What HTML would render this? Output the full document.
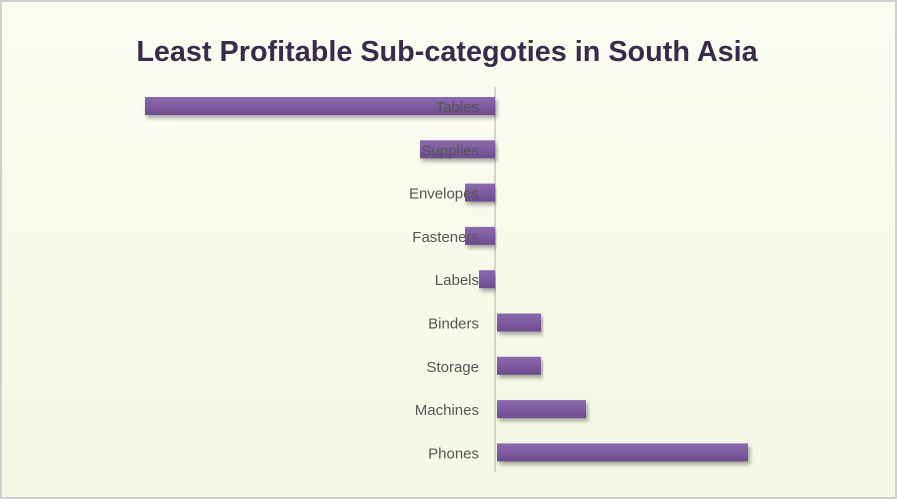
<!DOCTYPE html>
<html><head><meta charset="utf-8"><style>
body{margin:0;width:897px;height:499px;overflow:hidden;background:#fff;}
#c{position:absolute;left:0;top:0;width:893px;height:495px;border:2px solid #d0d0d0;background:linear-gradient(180deg,#fbfdf1 0%,#f3f8e4 100%);}
text{font-family:"Liberation Sans",sans-serif;}
</style></head><body>
<div id="c">
<svg id="s" width="893" height="495">
<defs>
<linearGradient id="g" x1="0" y1="0" x2="0" y2="1"><stop offset="0" stop-color="#8a6aab"/><stop offset="0.5" stop-color="#7d5ca0"/><stop offset="1" stop-color="#6b4b8e"/></linearGradient>
<filter id="sh" x="-5%" y="-50%" width="110%" height="200%"><feDropShadow dx="2" dy="3" stdDeviation="2" flood-color="#000" flood-opacity="0.35"/></filter>
</defs>
<text x="445" y="59" text-anchor="middle" font-size="28.8" font-weight="bold" fill="#3a2a4c">Least Profitable  Sub-categoties in South Asia</text>
</svg>
</div>
<script>
const categories=["Tables","Supplies","Envelopes","Fasteners","Labels","Binders","Storage","Machines","Phones"];
const values=[-3500,-750,-300,-300,-160,460,460,910,2530];
const svg=document.getElementById('s');
const NS='http://www.w3.org/2000/svg';
const x0=493, scale=0.1;
function xPos(v){return x0+v*scale;}
function yPos(i){return 104+i*43.3;}
const ax=document.createElementNS(NS,'line');
ax.setAttribute('x1',x0);ax.setAttribute('x2',x0);ax.setAttribute('y1',85);ax.setAttribute('y2',470);
ax.setAttribute('stroke','#c8c8c8');ax.setAttribute('stroke-width','1.5');


svg.appendChild(ax);
categories.forEach((c,i)=>{
  const v=values[i];const a=xPos(0)+(v>0?2:0),b=xPos(v);
  const r=document.createElementNS(NS,'rect');
  r.setAttribute('x',Math.min(a,b));r.setAttribute('width',Math.abs(b-a));
  r.setAttribute('y',yPos(i)-9);r.setAttribute('height',18);
  r.setAttribute('fill','url(#g)');r.setAttribute('filter','url(#sh)');
  
  
  svg.appendChild(r);
});
categories.forEach((c,i)=>{
  const t=document.createElementNS(NS,'text');
  t.setAttribute('x',x0-16);t.setAttribute('y',yPos(i)+6);
  t.setAttribute('text-anchor','end');t.setAttribute('font-size','15');t.setAttribute('fill','#555');
  t.textContent=c;
  
  
  svg.appendChild(t);
});
</script>
</body></html>
